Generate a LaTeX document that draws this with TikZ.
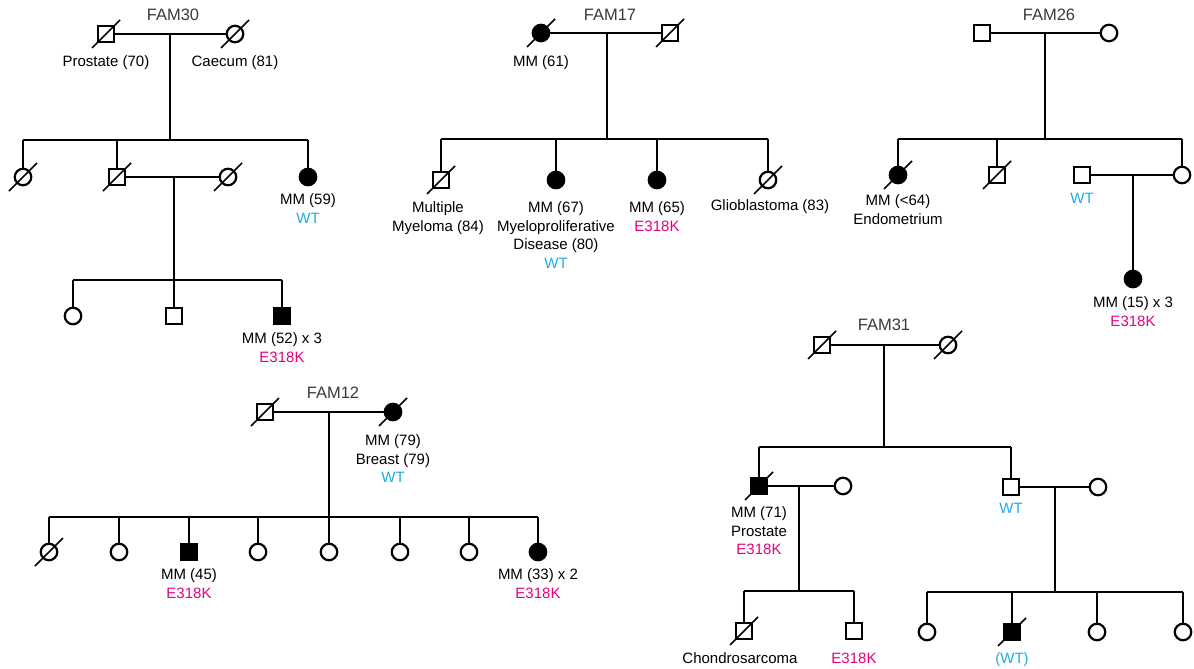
\documentclass[tikz,border=0pt]{standalone}
\usepackage{fontspec}
\setmainfont{Liberation Sans}
\usetikzlibrary{positioning}
\definecolor{wtblue}{RGB}{30,170,230}
\definecolor{mutpink}{RGB}{230,0,126}
\definecolor{famgray}{RGB}{58,58,58}
\newcommand\lblsize{\fontsize{15}{18.5}\selectfont}
\newcommand\famsize{\fontsize{16.5}{20}\selectfont}
\newcommand\wt[1]{\textcolor{wtblue}{#1}}
\newcommand\mut{\textcolor{mutpink}{E318K}}
\newcommand\rip[1]{\draw[line width=1.7pt] (#1.center) +(-14pt,-14pt) -- +(14pt,14pt);}
\begin{document}
\begin{tikzpicture}[x=1pt,y=-1pt,line width=1.6pt,
    male/.style={rectangle,draw,line width=2.2pt,minimum size=16.5pt,inner sep=0pt,fill=white},
    female/.style={circle,draw,line width=2.2pt,minimum size=16.5pt,inner sep=0pt,fill=white},
    aff/.style={fill=black},
    lbl/.style={align=center,inner sep=0pt,font=\lblsize},
    fam/.style={font=\famsize,text=famgray}]
    \useasboundingbox (0,0) rectangle (1194,669);
    % FAM30
    \node[fam] (30t0) at (173,15) {FAM30};
    \node[male] (30a) at (106,34) {};
    \node[female] (30b) at (235,34) {};
    \coordinate (30m) at (170,34);
    \coordinate (30s) at (170,140);
    \node[female] (30c) at (23,177) {};
    \node[male] (30d) at (117,177) {};
    \node[female] (30e) at (228,177) {};
    \node[female,aff] (30f) at (308,177) {};
    \coordinate (30n) at (174,177);
    \coordinate (30t) at (174,280);
    \node[female] (30g) at (73,316) {};
    \node[male] (30h) at (174,316) {};
    \node[male,aff] (30i) at (282,316) {};
    \path[draw] (30a) -- (30b);
    \path[draw] (30m) -- (30s);
    \path[draw] (30c |- 30s) -- (30f |- 30s);
    \foreach \k in {c,d,f} \path[draw] (30\k |- 30s) -- (30\k);
    \path[draw] (30d) -- (30e);
    \path[draw] (30n) -- (30t);
    \path[draw] (30g |- 30t) -- (30i |- 30t);
    \foreach \k in {g,h,i} \path[draw] (30\k |- 30t) -- (30\k);
    \rip{30a} \rip{30b} \rip{30c} \rip{30d} \rip{30e}
    \node[lbl,below=11.5pt of 30a] (30al) {Prostate (70)};
    \node[lbl,below=11.5pt of 30b] (30bl) {Caecum (81)};
    \node[lbl,below=6.5pt of 30f] (30fl) {MM (59)\\\wt{WT}};
    \node[lbl,below=6.5pt of 30i] (30il) {MM (52) x 3\\\mut};
    % FAM17
    \node[fam] (17t0) at (610,15) {FAM17};
    \node[female,aff] (17a) at (541,33) {};
    \node[male] (17b) at (670,33) {};
    \coordinate (17m) at (607,33);
    \coordinate (17s) at (607,139);
    \node[male] (17c) at (441,180) {};
    \node[female,aff] (17d) at (556,180) {};
    \node[female,aff] (17e) at (657,180) {};
    \node[female] (17f) at (768,180) {};
    \path[draw] (17a) -- (17b);
    \path[draw] (17m) -- (17s);
    \path[draw] (17c |- 17s) -- (17f |- 17s);
    \foreach \k in {c,d,e,f} \path[draw] (17\k |- 17s) -- (17\k);
    \rip{17a} \rip{17b} \rip{17c} \rip{17f}
    \node[lbl,below=12.5pt of 17a] (17al) {MM (61)};
    \node[lbl,below=11.5pt of 17c,xshift=-3pt] (17cl) {Multiple\\Myeloma (84)};
    \node[lbl,below=11.5pt of 17d] (17dl) {MM (67)\\Myeloproliferative\\Disease (80)\\\wt{WT}};
    \node[lbl,below=11.5pt of 17e] (17el) {MM (65)\\\mut};
    \node[lbl,below=9.5pt of 17f,xshift=2pt] (17fl) {Glioblastoma (83)};
    % FAM26
    \node[fam] (26t0) at (1049,15) {FAM26};
    \node[male] (26a) at (982,33) {};
    \node[female] (26b) at (1109,33) {};
    \coordinate (26m) at (1045,33);
    \coordinate (26s) at (1045,139);
    \node[female,aff] (26c) at (898,175) {};
    \node[male] (26d) at (997,175) {};
    \node[male] (26e) at (1082,175) {};
    \node[female] (26f) at (1182,175) {};
    \coordinate (26n) at (1133,175);
    \node[female,aff] (26g) at (1133,279) {};
    \path[draw] (26a) -- (26b);
    \path[draw] (26m) -- (26s);
    \path[draw] (26c |- 26s) -- (26f |- 26s);
    \foreach \k in {c,d,f} \path[draw] (26\k |- 26s) -- (26\k);
    \path[draw] (26e) -- (26f);
    \path[draw] (26n) -- (26g);
    \rip{26c} \rip{26d}
    \node[lbl,below=9.5pt of 26c] (26cl) {MM (<64)\\Endometrium};
    \node[lbl,below=8.5pt of 26e] (26el) {\wt{WT}};
    \node[lbl,below=7.5pt of 26g] (26gl) {MM (15) x 3\\\mut};
    % FAM12
    \node[fam] (12t0) at (333,393) {FAM12};
    \node[male] (12a) at (265,412) {};
    \node[female,aff] (12b) at (393,412) {};
    \coordinate (12m) at (329,412);
    \coordinate (12s) at (329,517);
    \node[female] (12c) at (49,552) {};
    \node[female] (12d) at (119,552) {};
    \node[male,aff] (12e) at (189,552) {};
    \node[female] (12f) at (258,552) {};
    \node[female] (12g) at (329,552) {};
    \node[female] (12h) at (400,552) {};
    \node[female] (12i) at (469,552) {};
    \node[female,aff] (12j) at (538,552) {};
    \path[draw] (12a) -- (12b);
    \path[draw] (12m) -- (12s);
    \path[draw] (12c |- 12s) -- (12j |- 12s);
    \foreach \k in {c,d,e,f,g,h,i,j} \path[draw] (12\k |- 12s) -- (12\k);
    \rip{12a} \rip{12b} \rip{12c}
    \node[lbl,below=12.5pt of 12b] (12bl) {MM (79)\\Breast (79)\\\wt{WT}};
    \node[lbl,below=6.5pt of 12e] (12el) {MM (45)\\\mut};
    \node[lbl,below=6.5pt of 12j] (12jl) {MM (33) x 2\\\mut};
    % FAM31
    \node[fam] (31t0) at (884,325) {FAM31};
    \node[male] (31a) at (822,345) {};
    \node[female] (31b) at (948,345) {};
    \coordinate (31m) at (884,345);
    \coordinate (31s) at (884,447);
    \node[male,aff] (31c) at (759,486) {};
    \node[female] (31d) at (843,486) {};
    \node[male] (31e) at (1011,487) {};
    \node[female] (31f) at (1098,487) {};
    \coordinate (31n) at (799,486);
    \coordinate (31t) at (799,591);
    \node[male] (31g) at (744,631) {};
    \node[male] (31h) at (854,631) {};
    \coordinate (31o) at (1055,487);
    \coordinate (31u) at (1055,592);
    \node[female] (31i) at (927,632) {};
    \node[male,aff] (31j) at (1012,632) {};
    \node[female] (31k) at (1097,632) {};
    \node[female] (31l) at (1183,632) {};
    \path[draw] (31a) -- (31b);
    \path[draw] (31m) -- (31s);
    \path[draw] (31c |- 31s) -- (31e |- 31s);
    \foreach \k in {c,e} \path[draw] (31\k |- 31s) -- (31\k);
    \path[draw] (31c) -- (31d);
    \path[draw] (31n) -- (31t);
    \path[draw] (31g |- 31t) -- (31h |- 31t);
    \foreach \k in {g,h} \path[draw] (31\k |- 31t) -- (31\k);
    \path[draw] (31e) -- (31f);
    \path[draw] (31o) -- (31u);
    \path[draw] (31i |- 31u) -- (31l |- 31u);
    \foreach \k in {i,j,k,l} \path[draw] (31\k |- 31u) -- (31\k);
    \rip{31a} \rip{31b} \rip{31c} \rip{31g} \rip{31j}
    \node[lbl,below=10.5pt of 31c] (31cl) {MM (71)\\Prostate\\\mut};
    \node[lbl,below=6.5pt of 31e] (31el) {\wt{WT}};
    \node[lbl,below=11.5pt of 31g,xshift=-4pt] (31gl) {Chondrosarcoma};
    \node[lbl,below=12pt of 31h] (31hl) {\mut};
    \node[lbl,below=10.5pt of 31j] (31jl) {\wt{(WT)}};
\end{tikzpicture}
\end{document}
